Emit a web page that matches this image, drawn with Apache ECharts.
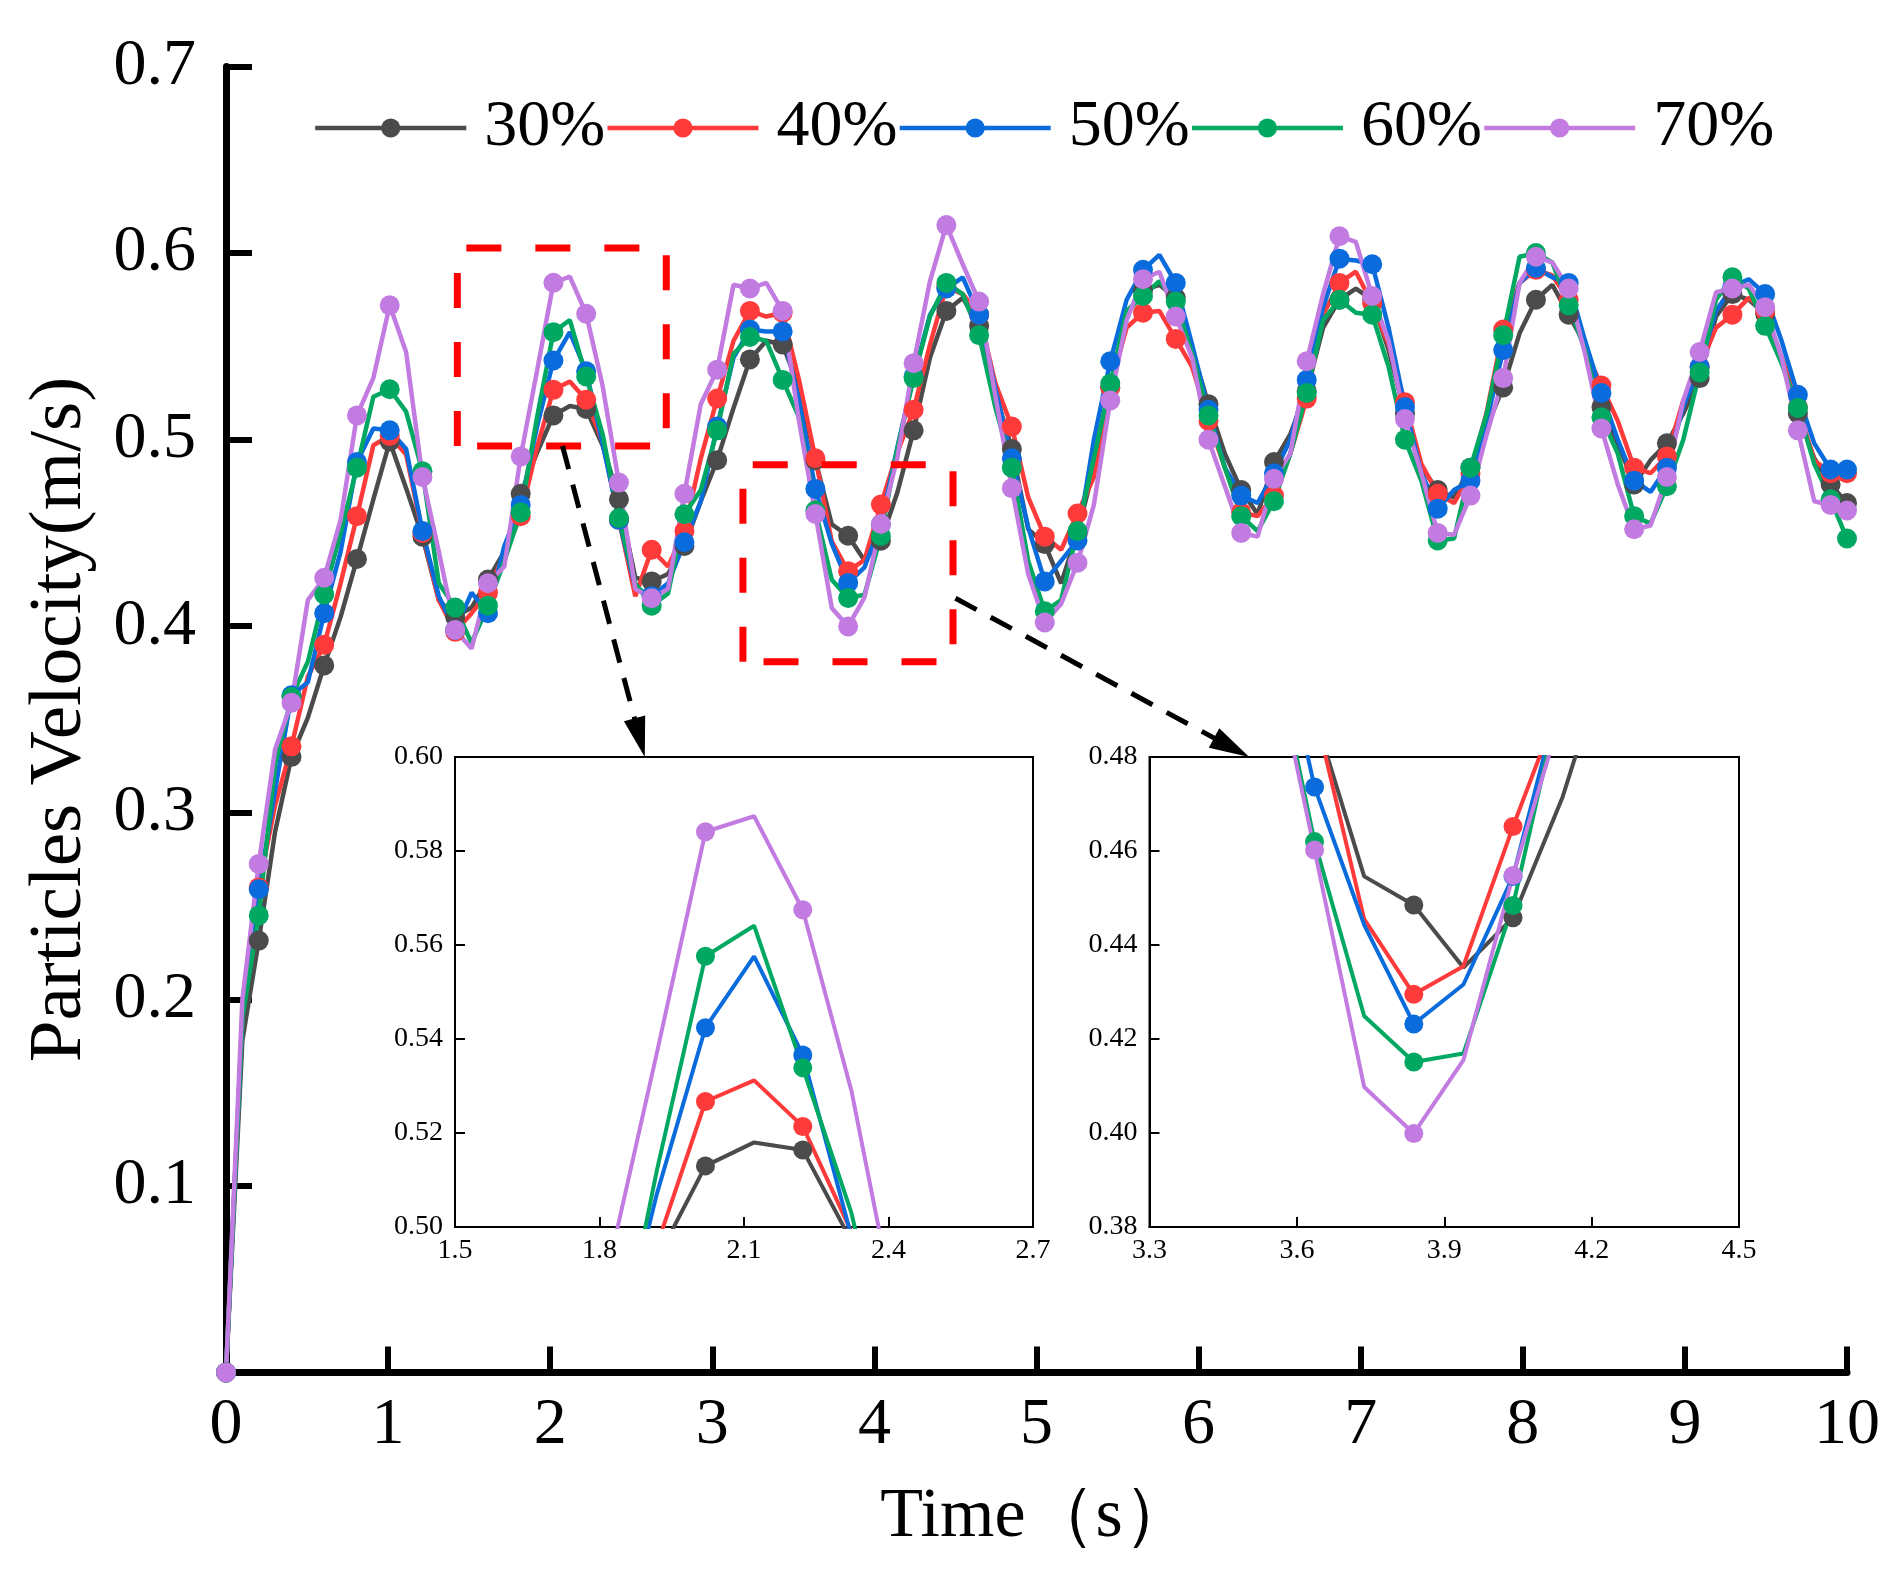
<!DOCTYPE html>
<html>
<head>
<meta charset="utf-8">
<script src="https://cdn.jsdelivr.net/npm/echarts@6/dist/echarts.min.js"></script>
<style>
html,body{margin:0;padding:0;background:#ffffff;}
#chart{width:1899px;height:1584px;}
</style>
</head>
<body>
<div id="chart"></div>
<script>
// ---- Data ----
const TIME = [0,0.101,0.202,0.303,0.404,0.505,0.606,0.707,0.808,0.909,
1.010,1.111,1.212,1.313,1.414,1.515,1.616,1.717,1.818,1.919,
2.020,2.121,2.222,2.323,2.424,2.525,2.626,2.727,2.828,2.929,
3.030,3.131,3.232,3.333,3.434,3.535,3.636,3.737,3.838,3.939,
4.040,4.141,4.242,4.343,4.444,4.545,4.646,4.747,4.848,4.949,
5.051,5.152,5.253,5.354,5.455,5.556,5.657,5.758,5.859,5.960,
6.061,6.162,6.263,6.364,6.465,6.566,6.667,6.768,6.869,6.970,
7.071,7.172,7.273,7.374,7.475,7.576,7.677,7.778,7.879,7.980,
8.081,8.182,8.283,8.384,8.485,8.586,8.687,8.788,8.889,8.990,
9.091,9.192,9.293,9.394,9.495,9.596,9.697,9.798,9.899,10.000];

const V30 = [0,0.178,0.2315,0.29,0.330,0.351,0.379,0.405,0.436,0.468,
0.499,0.474,0.448,0.414,0.405,0.410,0.425,0.440,0.471,0.493,
0.513,0.518,0.5164,0.497,0.468,0.426,0.424,0.428,0.443,0.467,
0.489,0.517,0.543,0.553,0.551,0.528,0.489,0.4546,0.4485,0.4352,
0.4458,0.4715,0.505,0.544,0.569,0.576,0.561,0.525,0.495,0.452,
0.444,0.423,0.450,0.485,0.528,0.567,0.580,0.583,0.576,0.548,
0.519,0.4925,0.473,0.460,0.488,0.503,0.526,0.560,0.575,0.581,
0.575,0.548,0.514,0.485,0.473,0.469,0.485,0.507,0.528,0.557,
0.575,0.583,0.567,0.551,0.5175,0.498,0.476,0.489,0.498,0.514,
0.533,0.566,0.578,0.575,0.5675,0.544,0.514,0.490,0.476,0.466];

const V40 = [0,0.190,0.260,0.304,0.3356,0.373,0.390,0.423,0.459,0.497,
0.502,0.492,0.450,0.414,0.397,0.407,0.418,0.439,0.459,0.496,
0.5267,0.5312,0.5214,0.499,0.457,0.416,0.441,0.432,0.451,0.490,
0.522,0.553,0.569,0.566,0.568,0.532,0.490,0.4455,0.4295,0.4355,
0.4652,0.493,0.516,0.551,0.582,0.578,0.567,0.530,0.507,0.469,
0.448,0.441,0.4604,0.480,0.528,0.560,0.568,0.569,0.554,0.539,
0.510,0.485,0.461,0.459,0.470,0.4925,0.522,0.567,0.584,0.590,
0.573,0.551,0.520,0.487,0.471,0.466,0.482,0.515,0.559,0.584,
0.591,0.588,0.575,0.548,0.529,0.510,0.485,0.482,0.491,0.521,
0.539,0.560,0.567,0.576,0.569,0.544,0.5175,0.489,0.482,0.482];

const V50 = [0,0.190,0.259,0.312,0.363,0.370,0.407,0.440,0.488,0.506,
0.505,0.495,0.451,0.416,0.398,0.418,0.407,0.443,0.465,0.507,
0.5424,0.5576,0.5366,0.498,0.457,0.421,0.416,0.423,0.445,0.467,
0.507,0.544,0.559,0.558,0.558,0.521,0.4736,0.4443,0.4232,0.4316,
0.4546,0.4956,0.534,0.567,0.581,0.587,0.567,0.527,0.490,0.453,
0.424,0.435,0.446,0.500,0.542,0.575,0.591,0.599,0.584,0.551,
0.516,0.485,0.470,0.466,0.482,0.500,0.532,0.571,0.597,0.596,
0.594,0.560,0.5175,0.482,0.463,0.473,0.478,0.510,0.548,0.584,
0.592,0.587,0.584,0.553,0.525,0.500,0.478,0.472,0.485,0.518,
0.539,0.569,0.582,0.586,0.578,0.553,0.524,0.498,0.484,0.484];

const V60 = [0,0.190,0.245,0.326,0.362,0.381,0.417,0.450,0.485,0.523,
0.527,0.515,0.483,0.423,0.410,0.391,0.411,0.435,0.461,0.512,
0.5576,0.5641,0.5339,0.503,0.458,0.423,0.411,0.4175,0.460,0.473,
0.505,0.546,0.555,0.553,0.532,0.512,0.462,0.4249,0.4151,0.4169,
0.4484,0.495,0.533,0.566,0.584,0.578,0.556,0.517,0.485,0.435,
0.408,0.414,0.451,0.490,0.530,0.569,0.577,0.585,0.574,0.546,
0.513,0.485,0.459,0.451,0.467,0.4925,0.525,0.564,0.575,0.568,
0.567,0.539,0.500,0.478,0.446,0.447,0.485,0.514,0.556,0.598,
0.600,0.595,0.572,0.548,0.512,0.4925,0.459,0.455,0.475,0.500,
0.536,0.575,0.587,0.581,0.561,0.541,0.517,0.487,0.468,0.447];

const V70 = [0,0.200,0.2726,0.334,0.359,0.414,0.426,0.457,0.513,0.533,
0.572,0.547,0.480,0.440,0.398,0.388,0.423,0.432,0.491,0.537,
0.5841,0.5874,0.5675,0.529,0.477,0.420,0.415,0.420,0.471,0.519,
0.5375,0.583,0.581,0.584,0.569,0.510,0.4602,0.4098,0.3999,0.4155,
0.4548,0.490,0.541,0.585,0.615,0.594,0.574,0.523,0.474,0.428,
0.402,0.412,0.434,0.465,0.521,0.564,0.586,0.590,0.566,0.544,
0.500,0.475,0.450,0.448,0.479,0.4925,0.542,0.578,0.609,0.606,
0.577,0.553,0.511,0.482,0.450,0.449,0.470,0.503,0.533,0.584,
0.598,0.595,0.581,0.546,0.506,0.476,0.452,0.454,0.480,0.521,
0.547,0.579,0.581,0.583,0.571,0.544,0.505,0.467,0.465,0.462];

const SERIES_NAMES = ['30%','40%','50%','60%','70%'];
const SERIES_VALUES = [V30, V40, V50, V60, V70];
const SERIES_COLORS = ['#4b4b4b','#ff3a3a','#0a6cdc','#00a862','#c27be0'];

// Zoom rectangles (data coordinates of the main chart): [tMin, tMax, vMin, vMax]
const ZOOM_BOX_1 = [1.427, 2.716, 0.4966, 0.6027];
const ZOOM_BOX_2 = [3.189, 4.485, 0.3809, 0.4866];
// Inset ranges [min, max, interval]
const INSET_1_X = [1.5, 2.7, 0.3];
const INSET_1_Y = [0.50, 0.60, 0.02];
const INSET_2_X = [3.3, 4.5, 0.3];
const INSET_2_Y = [0.38, 0.48, 0.02];
// Arrow anchors: start in main data coords, end in inset data coords
const ARROW_1 = {from: [2.076, 0.4966], to: [1.894, 0.60]};
const ARROW_2 = {from: [4.50, 0.415], to: [3.503, 0.48]};

// ---- Build ----
const FONT = "'Liberation Serif','Times New Roman',serif";
function pairs(vals){ return vals.map((v,i)=>[TIME[i], v]); }
function markerSize(size){
  return function(val, params){
    const i = params.dataIndex;
    return (i % 2 === 0 || i === TIME.length - 1) ? size : 0;
  };
}
function boxData(b){
  return [[b[0],b[2]],[b[0],b[3]],[b[1],b[3]],[b[1],b[2]],[b[0],b[2]]];
}

const series = [];
// main chart
SERIES_NAMES.forEach((name, k)=>{
  series.push({
    name: name, type: 'line', xAxisIndex: 0, yAxisIndex: 0,
    data: pairs(SERIES_VALUES[k]),
    symbol: 'circle', symbolSize: markerSize(20), showSymbol: true,
    lineStyle: {color: SERIES_COLORS[k], width: 4.5},
    itemStyle: {color: SERIES_COLORS[k]},
    emphasis: {disabled: true}, silent: true, clip: true, z: 3
  });
});
// insets
[1,2].forEach(g=>{
  SERIES_NAMES.forEach((name, k)=>{
    series.push({
      name: name, type: 'line', xAxisIndex: g, yAxisIndex: g,
      data: pairs(SERIES_VALUES[k]),
      symbol: 'circle', symbolSize: markerSize(19), showSymbol: true,
      lineStyle: {color: SERIES_COLORS[k], width: 4},
      itemStyle: {color: SERIES_COLORS[k]},
      emphasis: {disabled: true}, silent: true, clip: true, z: 3
    });
  });
});
// red dashed zoom boxes
[ZOOM_BOX_1, ZOOM_BOX_2].forEach(b=>{
  series.push({
    type: 'line', xAxisIndex: 0, yAxisIndex: 0, data: boxData(b),
    showSymbol: false, symbol: 'none', silent: true, clip: false, z: 4,
    lineStyle: {color: '#ff0000', width: 7, type: [35, 34], join: 'miter', cap: 'butt'},
    emphasis: {disabled: true}
  });
});

function mainX(){
  return {
    type: 'value', gridIndex: 0, min: 0, max: 10, interval: 1,
    axisLine: {show: true, onZero: false, lineStyle: {color: '#000', width: 7}},
    axisTick: {show: true, inside: true, length: 26, lineStyle: {color: '#000', width: 6}},
    axisLabel: {show: true, fontFamily: FONT, fontSize: 66, color: '#000', margin: 20,
      formatter: v => String(Math.round(v))},
    splitLine: {show: false},
    name: 'Time（s）', nameLocation: 'middle', nameGap: 110,
    nameTextStyle: {fontFamily: FONT, fontSize: 70, color: '#000'}
  };
}
function mainY(){
  return {
    type: 'value', gridIndex: 0, min: 0, max: 0.7, interval: 0.1,
    axisLine: {show: true, onZero: false, lineStyle: {color: '#000', width: 7}},
    axisTick: {show: true, inside: true, length: 26, lineStyle: {color: '#000', width: 6}},
    axisLabel: {show: true, fontFamily: FONT, fontSize: 66, color: '#000', margin: 30,
      showMinLabel: false, formatter: v => v.toFixed(1)},
    splitLine: {show: false},
    name: 'Particles Velocity(m/s)', nameLocation: 'middle', nameGap: 128,
    nameTextStyle: {fontFamily: FONT, fontSize: 75, color: '#000'}
  };
}
function insetAxis(grid, range, digits, isX){
  return {
    type: 'value', gridIndex: grid, min: range[0], max: range[1], interval: range[2],
    axisLine: {show: true, onZero: false, lineStyle: {color: '#000', width: 2}},
    axisTick: {show: true, inside: true, length: 10, lineStyle: {color: '#000', width: 2}},
    axisLabel: {show: true, fontFamily: FONT, fontSize: 28, color: '#000', margin: isX ? 10 : 12,
      showMinLabel: true, showMaxLabel: true, hideOverlap: false,
      formatter: v => v.toFixed(digits)},
    splitLine: {show: false}
  };
}

const option = {
  animation: false,
  backgroundColor: '#ffffff',
  legend: {
    data: SERIES_NAMES, left: 308, top: 90, itemGap: 0,
    itemWidth: 151, itemHeight: 24,
    lineStyle: {width: 4.5},
    textStyle: {fontFamily: FONT, fontSize: 66, color: '#000', padding: [0,0,0,13]},
    selectedMode: false
  },
  grid: [
    {left: 226, right: 52, top: 66.5, bottom: 211.5, outerBoundsMode: 'none', containLabel: false},
    {left: 455, top: 757, width: 578, height: 470, show: true, borderColor: '#000', borderWidth: 2,
      backgroundColor: '#fff', outerBoundsMode: 'none', containLabel: false},
    {left: 1149.5, top: 757, width: 589.5, height: 470, show: true, borderColor: '#000', borderWidth: 2,
      backgroundColor: '#fff', outerBoundsMode: 'none', containLabel: false}
  ],
  xAxis: [mainX(), insetAxis(1, INSET_1_X, 1, true), insetAxis(2, INSET_2_X, 1, true)],
  yAxis: [mainY(), insetAxis(1, INSET_1_Y, 2, false), insetAxis(2, INSET_2_Y, 2, false)],
  series: series
};

const chart = echarts.init(document.getElementById('chart'), null, {renderer: 'canvas'});
chart.setOption(option);

// Dashed arrows from zoom boxes to insets
function arrowGraphics(a, insetIdx){
  const p0 = chart.convertToPixel({xAxisIndex: 0, yAxisIndex: 0}, a.from);
  const p1 = chart.convertToPixel({xAxisIndex: insetIdx, yAxisIndex: insetIdx}, a.to);
  const dx = p1[0]-p0[0], dy = p1[1]-p0[1];
  const L = Math.sqrt(dx*dx+dy*dy), ux = dx/L, uy = dy/L;
  const headLen = 40, headHalf = 11;
  const bx = p1[0]-ux*headLen, by = p1[1]-uy*headLen;
  return [
    {type: 'line', silent: true, z: 20,
      shape: {x1: p0[0], y1: p0[1], x2: bx + ux*4, y2: by + uy*4},
      style: {stroke: '#000', lineWidth: 5, lineDash: [24, 16]}},
    {type: 'polygon', silent: true, z: 21,
      shape: {points: [[p1[0], p1[1]], [bx - uy*headHalf, by + ux*headHalf], [bx + uy*headHalf, by - ux*headHalf]]},
      style: {fill: '#000'}}
  ];
}
chart.setOption({graphic: [].concat(arrowGraphics(ARROW_1, 1), arrowGraphics(ARROW_2, 2))});
</script>
</body>
</html>
